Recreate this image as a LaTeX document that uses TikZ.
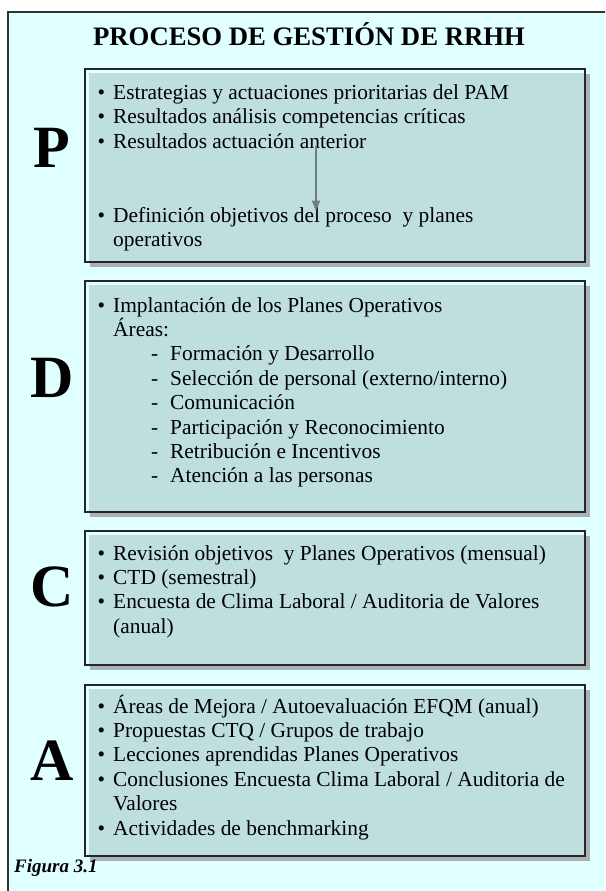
\documentclass[tikz,border=0pt]{standalone}
\usepackage{fontspec}
\setmainfont{Liberation Serif}
\usetikzlibrary{arrows.meta}

\definecolor{fondo}{HTML}{E0FFFF}
\definecolor{caja}{HTML}{BFDFDF}
\definecolor{sombra}{HTML}{A9B3B3}
\definecolor{flecha}{HTML}{6F7F80}

\newcommand{\punto}{\llap{\textbullet\hspace{8pt}}}
\newcommand{\guion}{\llap{-\hspace{12pt}}}

\tikzset{
	linea/.style={anchor=base west, inner sep=0pt, font=\fontsize{21.4}{24}\selectfont},
	letra/.style={anchor=base, inner sep=0pt, font=\fontsize{60}{60}\bfseries\selectfont},
	borde/.style={draw=black!85, line width=1.3pt},
}

\begin{document}
\begin{tikzpicture}[x=1pt,y=-1pt]
		\useasboundingbox (0,0) rectangle (605,891);
		\clip (0,0) rectangle (605,891);
		\fill[white] (0,0) rectangle (605,891);
		\draw[fill=fondo, draw=black!80, line width=1.2pt] (8,12) rectangle (640,920);

		% cajas con sombra
		\foreach \ya/\yb in {69/262, 281/512, 531/665, 685/856}
		{
			\fill[sombra] (90,\ya+5) rectangle (590,\yb+5);
			\fill[caja] (89,\ya+4) rectangle (585,\yb);
			\draw[borde] (85,\ya) rectangle (585,\yb);
		}

		\node[anchor=base, inner sep=0pt, font=\fontsize{26.7}{30}\bfseries\selectfont] (titulo) at (309,46) {PROCESO DE GESTIÓN DE RRHH};

		\node[letra] (P) at (52,167) {P};
		\node[letra] (D) at (52,397) {D};
		\node[letra] (C) at (52,606) {C};
		\node[letra] (A) at (52,780) {A};

		% P
		\node[linea] (p1) at (113,99) {\punto Estrategias y actuaciones prioritarias del PAM};
		\node[linea] (p2) at (113,123.5) {\punto Resultados análisis competencias críticas};
		\node[linea] (p3) at (113,148) {\punto Resultados actuación anterior};
		\node[linea] (p4) at (113,222) {\punto Definición objetivos del proceso\ \ y planes};
		\node[linea] (p5) at (113,246) {operativos};

		\coordinate (fx) at (316,0);
		\draw[flecha, line width=1.3pt, -{Triangle[length=10pt,width=8pt]}] ([yshift=2pt]fx |- p3.base) -- ([yshift=-4pt]fx |- p4.north);

		% D
		\node[linea] (d1) at (113,312) {\punto Implantación de los Planes Operativos};
		\node[linea] (d2) at (113,336.4) {Áreas:};
		\foreach \t [count=\i from 3] in {Formación y Desarrollo, Selección de personal (externo/interno), Comunicación, Participación y Reconocimiento, Retribución e Incentivos, Atención a las personas}
		{
			\node[linea] (d\i) at (170,312+24.4*\i-24.4) {\guion\t};
		}

		% C
		\foreach \t [count=\i] in {Revisión objetivos\ \ y Planes Operativos (mensual), CTD (semestral), Encuesta de Clima Laboral / Auditoria de Valores}
		{
			\node[linea] (c\i) at (113,560+24.4*\i-24.4) {\punto\t};
		}
		\node[linea] (c4) at (113,633.2) {(anual)};

		% A
		\foreach \t [count=\i] in {Áreas de Mejora / Autoevaluación EFQM (anual), Propuestas CTQ / Grupos de trabajo, Lecciones aprendidas Planes Operativos, Conclusiones Encuesta Clima Laboral / Auditoria de}
		{
			\node[linea] (a\i) at (113,713+24.4*\i-24.4) {\punto\t};
		}
		\node[linea] (a5) at (113,810.6) {Valores};
		\node[linea] (a6) at (113,835) {\punto Actividades de benchmarking};

		\node[anchor=base west, inner sep=0pt, font=\fontsize{19}{22}\bfseries\itshape\selectfont] (figura) at (14,872) {Figura 3.1};
	\end{tikzpicture}
\end{document}
